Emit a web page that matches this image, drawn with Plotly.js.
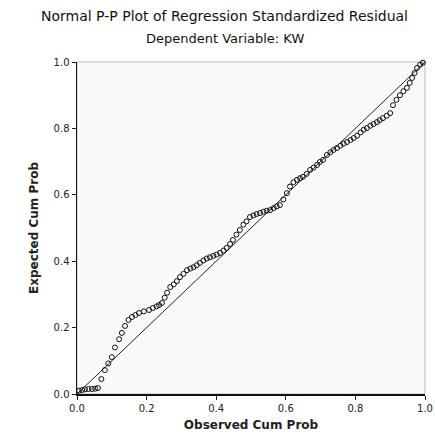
<!DOCTYPE html>
<html>
<head>
<meta charset="utf-8">
<script src="https://cdn.plot.ly/plotly-3.0.1.min.js"></script>
<style>html,body{margin:0;padding:0;background:#fff;}#chart{width:435px;height:436px;}</style>
</head>
<body>
<div id="chart"></div>
<script>
// Observed cumulative probability (x) and expected cumulative probability (y)
var observedCumProb = [0.006,0.015,0.023,0.033,0.043,0.052,0.060,0.070,0.080,0.090,0.100,0.109,0.121,0.129,0.138,0.148,0.158,0.168,0.178,0.192,0.207,0.218,0.229,0.236,0.244,0.252,0.259,0.268,0.278,0.287,0.296,0.306,0.316,0.326,0.335,0.344,0.353,0.363,0.373,0.382,0.392,0.401,0.411,0.421,0.430,0.440,0.448,0.458,0.468,0.478,0.487,0.497,0.507,0.516,0.526,0.536,0.545,0.555,0.565,0.574,0.583,0.593,0.603,0.612,0.622,0.632,0.641,0.649,0.660,0.670,0.680,0.690,0.698,0.707,0.718,0.728,0.737,0.747,0.757,0.766,0.776,0.786,0.795,0.805,0.815,0.824,0.833,0.843,0.852,0.862,0.870,0.879,0.890,0.900,0.908,0.918,0.928,0.938,0.948,0.956,0.963,0.970,0.977,0.986,0.994];
var expectedCumProb = [0.010,0.012,0.014,0.015,0.015,0.016,0.018,0.045,0.072,0.092,0.111,0.140,0.165,0.184,0.205,0.223,0.232,0.238,0.244,0.249,0.253,0.259,0.264,0.268,0.274,0.290,0.305,0.322,0.330,0.340,0.352,0.362,0.373,0.378,0.382,0.388,0.395,0.402,0.408,0.412,0.416,0.420,0.425,0.432,0.440,0.452,0.464,0.480,0.494,0.510,0.520,0.533,0.538,0.542,0.545,0.549,0.552,0.554,0.560,0.565,0.569,0.586,0.605,0.625,0.638,0.645,0.650,0.654,0.663,0.675,0.682,0.690,0.699,0.705,0.720,0.728,0.735,0.741,0.748,0.754,0.759,0.765,0.771,0.778,0.788,0.796,0.801,0.808,0.813,0.819,0.825,0.831,0.838,0.846,0.870,0.886,0.900,0.912,0.922,0.937,0.952,0.967,0.982,0.992,0.998];
var refLine = [0, 1];
var tickVals = [0, 0.2, 0.4, 0.6, 0.8, 1.0];
var tickText = ["0.0", "0.2", "0.4", "0.6", "0.8", "1.0"];

var font = "DejaVu Sans, Liberation Sans, sans-serif";
var traces = [
  {x: refLine, y: refLine, mode: "lines", line: {color: "#222", width: 1}, hoverinfo: "skip", showlegend: false},
  {x: observedCumProb, y: expectedCumProb, mode: "markers", cliponaxis: false,
   marker: {symbol: "circle-open", size: 5, color: "#111", line: {width: 1, color: "#111"}}, showlegend: false}
];
var layout = {
  width: 435, height: 436,
  margin: {l: 77, r: 10, t: 62, b: 42},
  paper_bgcolor: "#ffffff", plot_bgcolor: "#fafafa",
  font: {family: font, size: 10, color: "#222"},
  xaxis: {range: [0, 1], tickvals: tickVals, ticktext: tickText, ticks: "outside", ticklen: 4, tickcolor: "#222",
    showgrid: false, zeroline: false, showline: true, linecolor: "#111", linewidth: 1.5,
    tickfont: {size: 10, family: font, color: "#222"},
    title: {text: "<b>Observed Cum Prob</b>", font: {size: 12, family: font, color: "#222"}, standoff: 8}},
  yaxis: {range: [0, 1], tickvals: tickVals, ticktext: tickText, ticks: "outside", ticklen: 4, tickcolor: "#222",
    showgrid: false, zeroline: false, showline: true, linecolor: "#111", linewidth: 1.5,
    tickfont: {size: 10, family: font, color: "#222"},
    title: {text: "<b>Expected Cum Prob</b>", font: {size: 12, family: font, color: "#222"}, standoff: 12}},
  shapes: [{type: "rect", xref: "paper", yref: "paper", x0: 0, x1: 1, y0: 0, y1: 1,
    line: {color: "#bbbbbb", width: 1}, layer: "below"}],
  annotations: [
    {text: "Normal P-P Plot of Regression Standardized Residual", xref: "paper", yref: "paper",
     x: 0.425, y: 1.1386, xanchor: "center", yanchor: "middle", showarrow: false,
     font: {size: 14, family: font, color: "#111"}},
    {text: "Dependent Variable: KW", xref: "paper", yref: "paper",
     x: 0.425, y: 1.072, xanchor: "center", yanchor: "middle", showarrow: false,
     font: {size: 13, family: font, color: "#111"}}
  ]
};
Plotly.newPlot("chart", traces, layout, {displayModeBar: false, staticPlot: true});
</script>
</body>
</html>
